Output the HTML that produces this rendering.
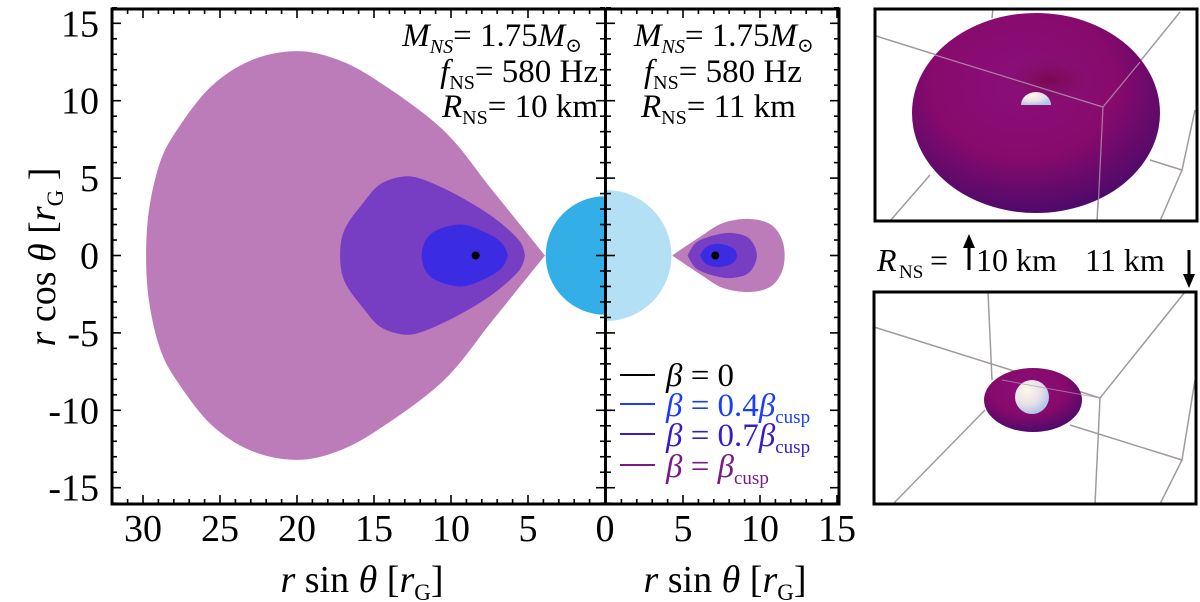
<!DOCTYPE html>
<html><head><meta charset="utf-8">
<style>
html,body{margin:0;padding:0;background:#fff;}
body{width:1200px;height:602px;overflow:hidden;font-family:"Liberation Serif","DejaVu Serif",serif;}
svg, svg text, svg tspan{font-family:"Liberation Serif","DejaVu Serif",serif !important;}
</style></head>
<body>
<svg id="fig" width="1200" height="602" viewBox="0 0 1200 602" xmlns="http://www.w3.org/2000/svg" style="position:absolute;left:0;top:0">
<defs>
<clipPath id="clipL"><rect x="112" y="9" width="494" height="495"/></clipPath>
<clipPath id="clipR"><rect x="606" y="9" width="233" height="495"/></clipPath>
<radialGradient id="torusG" cx="0.45" cy="0.35" r="0.75">
<stop offset="0" stop-color="#8a0f7a"/><stop offset="0.5" stop-color="#870a6c"/><stop offset="1" stop-color="#3a0a6a"/></radialGradient>
<radialGradient id="holeG" cx="0.5" cy="0.5" r="0.5">
<stop offset="0" stop-color="#7a0850"/><stop offset="1" stop-color="#8a1478" stop-opacity="0"/></radialGradient>
<radialGradient id="sphG" cx="0.35" cy="0.3" r="0.7">
<stop offset="0" stop-color="#fff8e8"/><stop offset="0.6" stop-color="#e8e0e8"/><stop offset="1" stop-color="#b0c8e8"/></radialGradient>
</defs>
<g id="plots"></g>
<g id="images">
<g>
<rect x="875" y="9" width="322" height="212" fill="#fff"/>
<g stroke="#a09aa0" stroke-width="1.5" fill="none">
<polyline points="876,36 1103,107 1180,12"/><line x1="1103" y1="107" x2="1097" y2="221"/>
<line x1="993" y1="9" x2="992" y2="18"/><polyline points="1150,160 1182,170 1195,110"/>
<line x1="930" y1="175" x2="890" y2="221"/><line x1="1182" y1="170" x2="1160" y2="221"/>
</g>
<ellipse cx="1036" cy="113" rx="124" ry="100" fill="url(#torusG)"/>
<ellipse cx="1050" cy="80" rx="55" ry="30" fill="url(#holeG)"/>
<path d="M1021,105 a15,13 0 0 1 30,0 z" fill="url(#sphG)"/>
<g stroke="#b89ab8" stroke-width="1.2" fill="none" opacity="0.8">
<polyline points="935,55 1103,107 1140,62"/><line x1="1103" y1="107" x2="1098" y2="210"/></g>
<rect x="875" y="9" width="322" height="212" fill="none" stroke="#000" stroke-width="3"/>
</g>
<g>
<rect x="874" y="292" width="322" height="212" fill="#fff"/>
<g stroke="#a09aa0" stroke-width="1.5" fill="none">
<polyline points="874,327 1100,398 1185,292"/><line x1="988" y1="292" x2="992" y2="380"/>
<line x1="1100" y1="398" x2="1095" y2="504"/><polyline points="1070,425 1182,460 1195,380"/>
<line x1="985" y1="410" x2="893" y2="504"/><line x1="1182" y1="460" x2="1160" y2="504"/>
</g>
<ellipse cx="1033" cy="400" rx="49" ry="32" fill="url(#torusG)"/>
<circle cx="1032" cy="397" r="17" fill="url(#sphG)"/>
<line x1="1002" y1="380" x2="1100" y2="398" stroke="#b09ab0" stroke-width="1" opacity="0.7"/>
<rect x="874" y="292" width="322" height="212" fill="none" stroke="#000" stroke-width="3"/>
</g>
<g>
<text x="877" y="271" font-size="32" font-style="italic">R</text>
<text x="899" y="278" font-size="19">NS</text>
<text x="930" y="271" font-size="32">=</text>
<path d="M969,270 V244" stroke="#000" stroke-width="3"/><path d="M963,248 L969,234 L975,248 z" fill="#000"/>
<text x="976" y="271" font-size="32">10 km</text>
<text x="1085" y="271" font-size="32">11 km</text>
<path d="M1189,250 V278" stroke="#000" stroke-width="3"/><path d="M1183,274 L1189,288 L1195,274 z" fill="#000"/>
</g>
</g>
</svg>
<script>
// ---- data (units of r_G); upper-half contour points, mirrored about y=0 ----
const leftCuspShape = [[3.9,0],[7.3,4.2],[10.5,8.1],[14.8,11.3],[17.5,12.7],[20.1,13.2],[23,12.6],[25.6,10.9],[27.8,8.1],[28.9,6.0],[29.6,3.0],[29.8,0]];
const leftMidShape = [[5.2,0],[5.6,1.0],[7.3,2.5],[9.6,3.9],[11.8,4.9],[13.1,5.1],[14.6,4.6],[15.7,3.4],[16.9,1.7],[17.2,0]];
const leftInnerShape = [[6.3,0],[6.7,0.8],[7.7,1.45],[9.4,2.0],[11.3,1.4],[11.9,0]];
const leftCenter = [8.4,0];
const rightCuspShape = [[4.3,0],[6.1,1.2],[7.6,2.1],[9.35,2.36],[10.7,2.0],[11.4,1.1],[11.6,0]];
const rightMidShape = [[5.3,0],[5.9,0.87],[7.2,1.35],[8.2,1.45],[9.3,1.1],[9.8,0]];
const rightInnerShape = [[6.1,0],[6.5,0.55],[7.3,0.75],[8.2,0.5],[8.5,0]];
const rightCenter = [7.1,0];
const starRadiusLeft = 3.85;
const starRadiusRight = 4.25;
const yTicks = [15,10,5,0,-5,-10,-15];
const xTicksLeft = [30,25,20,15,10,5,0];
const xTicksRight = [5,10,15];

const NS='http://www.w3.org/2000/svg';
const plots=document.getElementById('plots');
const Y0=255.5, SY=15.48, SX=15.4;
const yS=v=>Y0-v*SY;
const xL=v=>605-v*SX;
const xR=v=>606+v*SX;
function el(t,a,p){const e=document.createElementNS(NS,t);for(const k in a)e.setAttribute(k,a[k]);(p||plots).appendChild(e);return e;}
function shapePath(pts,xs){
  const full=pts.map(p=>[p[0],p[1]]);
  for(let i=pts.length-2;i>0;i--)full.push([pts[i][0],-pts[i][1]]);
  const P=full.map(p=>[xs(p[0]),yS(p[1])]);
  const n=P.length;let d='M'+P[0][0]+','+P[0][1];
  for(let i=0;i<n;i++){
    const p0=P[(i-1+n)%n],p1=P[i],p2=P[(i+1)%n],p3=P[(i+2)%n];
    let t1=0.1667,t2=0.1667;
    if(i===0){t1=0;} if((i+1)%n===0){t2=0;}
    const c1=[p1[0]+(p2[0]-p0[0])*t1,p1[1]+(p2[1]-p0[1])*t1];
    const c2=[p2[0]-(p3[0]-p1[0])*t2,p2[1]-(p3[1]-p1[1])*t2];
    d+=' C'+c1[0]+','+c1[1]+' '+c2[0]+','+c2[1]+' '+p2[0]+','+p2[1];
  }
  return d+'Z';
}
const gL=el('g',{'clip-path':'url(#clipL)'});


let e;
e=el('path',{d:shapePath(leftCuspShape,xL),fill:'#bc7cba'},gL);


e=el('path',{d:shapePath(leftMidShape,xL),fill:'#773ec4'},gL);


e=el('path',{d:shapePath(leftInnerShape,xL),fill:'#3b2be2'},gL);


e=el('circle',{cx:xL(leftCenter[0]),cy:yS(leftCenter[1]),r:4,fill:'#000'},gL);


e=el('circle',{cx:xL(0),cy:yS(0),r:starRadiusLeft*SX,fill:'#33aee6'},gL);


const gR=el('g',{'clip-path':'url(#clipR)'});


e=el('circle',{cx:xR(0),cy:yS(0),r:starRadiusRight*SX,fill:'#b3e0f5'},gR);


e=el('path',{d:shapePath(rightCuspShape,xR),fill:'#bc7cba'},gR);


e=el('path',{d:shapePath(rightMidShape,xR),fill:'#773ec4'},gR);


e=el('path',{d:shapePath(rightInnerShape,xR),fill:'#3b2be2'},gR);


e=el('circle',{cx:xR(rightCenter[0]),cy:yS(rightCenter[1]),r:4,fill:'#000'},gR);


const gT=el('g',{stroke:'#000','stroke-width':1.6});


for(let v=-16;v<=16;v++){
  const y=yS(v), L=(v%5===0)?9:5;
  el('line',{x1:112,y1:y,x2:112+L,y2:y},gT);
  el('line',{x1:605,y1:y,x2:605-L,y2:y},gT);
  el('line',{x1:606,y1:y,x2:606+L,y2:y},gT);
  el('line',{x1:839,y1:y,x2:839-L,y2:y},gT);
}
for(let v=0;v<=32;v++){const x=xL(v),L=(v%5===0)?9:5;if(x<112)continue;
  el('line',{x1:x,y1:504,x2:x,y2:504-L},gT);el('line',{x1:x,y1:9,x2:x,y2:9+L},gT);}
for(let v=0;v<=15;v++){const x=xR(v),L=(v%5===0)?9:5;
  el('line',{x1:x,y1:504,x2:x,y2:504-L},gT);el('line',{x1:x,y1:9,x2:x,y2:9+L},gT);}
e=el('rect',{x:112,y:9,width:727,height:495,fill:'none',stroke:'#000','stroke-width':3});


e=el('line',{x1:605.5,y1:9,x2:605.5,y2:504,stroke:'#000','stroke-width':3});


yTicks.forEach(v=>{const t=el('text',{x:99,y:yS(v)+13,'font-size':38,'text-anchor':'end'});t.textContent=(v<0?'-'+(-v):v);

});
xTicksLeft.forEach(v=>{const t=el('text',{x:xL(v),y:541,'font-size':38,'text-anchor':'middle'});t.textContent=v;

});
xTicksRight.forEach(v=>{const t=el('text',{x:xR(v),y:541,'font-size':38,'text-anchor':'middle'});t.textContent=v;

});
</script>
<svg style="position:absolute;left:0;top:0" width="1200" height="602" xmlns="http://www.w3.org/2000/svg">
<g transform="translate(55,257) rotate(-90)">
<text x="0" y="0" font-size="38" text-anchor="middle"><tspan font-style="italic">r</tspan> cos <tspan font-style="italic">θ</tspan> [<tspan font-style="italic">r</tspan><tspan font-size="23" dy="8">G</tspan><tspan dy="-8"> ]</tspan></text>
</g>
<text x="362" y="592" font-size="38" text-anchor="middle"><tspan font-style="italic">r</tspan> sin <tspan font-style="italic">θ</tspan> [<tspan font-style="italic">r</tspan><tspan font-size="23" dy="8">G</tspan><tspan dy="-8">]</tspan></text>
<text x="725" y="592" font-size="38" text-anchor="middle"><tspan font-style="italic">r</tspan> sin <tspan font-style="italic">θ</tspan> [<tspan font-style="italic">r</tspan><tspan font-size="23" dy="8">G</tspan><tspan dy="-8">]</tspan></text>
<g font-size="33" text-anchor="end">
<text x="582" y="46"><tspan font-style="italic">M</tspan><tspan font-size="20" dy="7" font-style="italic">NS</tspan><tspan dy="-7">= 1.75</tspan><tspan font-style="italic">M</tspan><tspan font-size="20" dy="6">⊙</tspan></text>
<text x="598" y="82"><tspan font-style="italic">f</tspan><tspan font-size="20" dy="7">NS</tspan><tspan dy="-7">= 580 Hz</tspan></text>
<text x="598" y="117"><tspan font-style="italic">R</tspan><tspan font-size="20" dy="7">NS</tspan><tspan dy="-7">= 10 km</tspan></text>
</g>
<g font-size="33">
<text x="634" y="46"><tspan font-style="italic">M</tspan><tspan font-size="20" dy="7" font-style="italic">NS</tspan><tspan dy="-7">= 1.75</tspan><tspan font-style="italic">M</tspan><tspan font-size="20" dy="6">⊙</tspan></text>
<text x="644" y="82"><tspan font-style="italic">f</tspan><tspan font-size="20" dy="7">NS</tspan><tspan dy="-7">= 580 Hz</tspan></text>
<text x="641" y="117"><tspan font-style="italic">R</tspan><tspan font-size="20" dy="7">NS</tspan><tspan dy="-7">= 11 km</tspan></text>
</g>
<g font-size="33">
<g><line x1="620" y1="375" x2="655" y2="375" stroke="#000" stroke-width="2"/><text x="666" y="386" fill="#000"><tspan font-style="italic">β</tspan> = 0</text></g>
<g><line x1="620" y1="404" x2="655" y2="404" stroke="#1a3cff" stroke-width="2"/><text x="666" y="416" fill="#1a3cff"><tspan font-style="italic">β</tspan> = 0.4<tspan font-style="italic">β</tspan><tspan font-size="19" dy="7">cusp</tspan></text></g>
<g><line x1="620" y1="434" x2="655" y2="434" stroke="#3a1acc" stroke-width="2"/><text x="666" y="446" fill="#3a1acc"><tspan font-style="italic">β</tspan> = 0.7<tspan font-style="italic">β</tspan><tspan font-size="19" dy="7">cusp</tspan></text></g>
<g><line x1="620" y1="465" x2="655" y2="465" stroke="#7a1a88" stroke-width="2"/><text x="666" y="477" fill="#7a1a88"><tspan font-style="italic">β</tspan> = <tspan font-style="italic">β</tspan><tspan font-size="19" dy="7">cusp</tspan></text></g>
</g>
</svg>
</body></html>
